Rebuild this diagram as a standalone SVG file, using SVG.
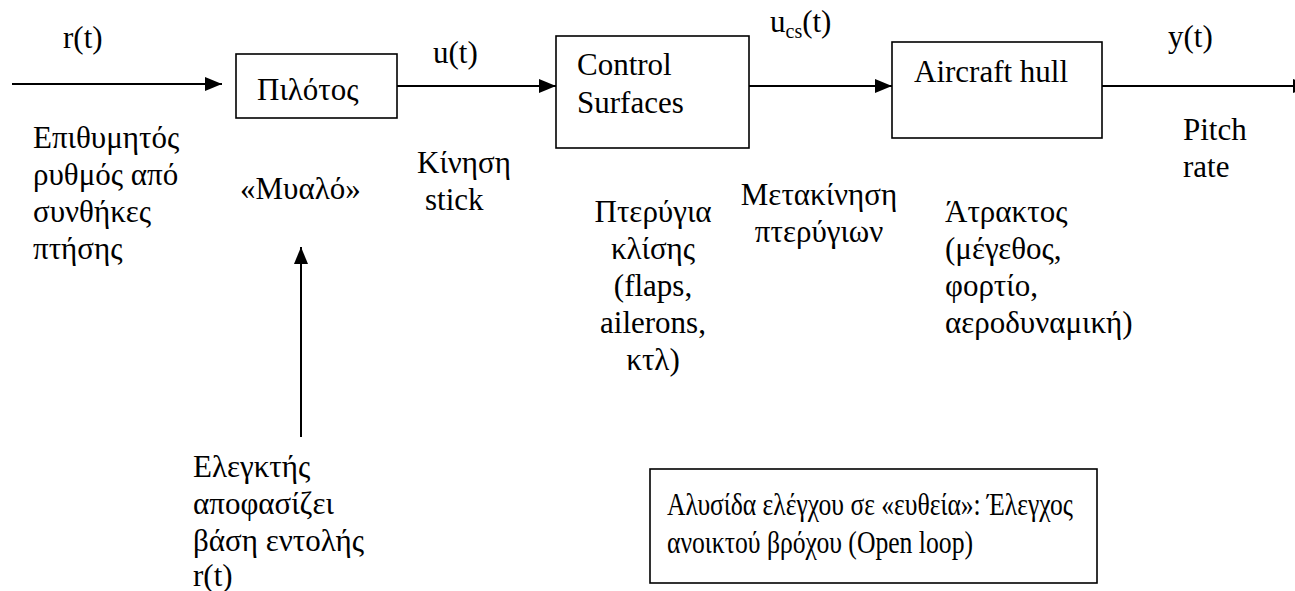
<svg xmlns="http://www.w3.org/2000/svg" width="1295" height="591" viewBox="0 0 1295 591" font-family="Liberation Serif" font-size="31">
  <defs>
    <marker id="head" markerUnits="userSpaceOnUse" markerWidth="18" markerHeight="16" refX="17" refY="7" orient="auto">
      <path d="M0,0 L17,7 L0,14 Z" fill="#000"/>
    </marker>
  </defs>
  <rect width="1295" height="591" fill="#fff"/>

  <!-- signal connectors -->
  <g id="connectors" stroke="#000" stroke-width="2" fill="none" marker-end="url(#head)">
    <line x1="12" y1="84" x2="222" y2="84"/>
    <line x1="397" y1="86" x2="556" y2="86"/>
    <line x1="749" y1="86" x2="892" y2="86"/>
    <line x1="1102" y1="86" x2="1310" y2="86"/>
    <line x1="301" y1="437" x2="301" y2="247"/>
  </g>

  <g id="pilot">
    <rect x="236" y="54" width="161" height="64" fill="#fff" stroke="#000" stroke-width="1.6"/>
    <text x="257" y="100">Πιλότος</text>
  </g>

  <g id="control-surfaces">
    <rect x="556" y="36" width="193" height="112" fill="#fff" stroke="#000" stroke-width="1.6"/>
    <text x="577" y="75">Control</text>
    <text x="577" y="113">Surfaces</text>
  </g>

  <g id="aircraft-hull">
    <rect x="892" y="42" width="210" height="96" fill="#fff" stroke="#000" stroke-width="1.6"/>
    <text x="914" y="82">Aircraft hull</text>
  </g>

  <g id="note">
    <rect x="650" y="469" width="447" height="114" fill="#fff" stroke="#000" stroke-width="1.6"/>
    <text x="667" y="515" textLength="406" lengthAdjust="spacingAndGlyphs">Αλυσίδα ελέγχου σε «ευθεία»: Έλεγχος</text>
    <text x="667" y="553" textLength="306" lengthAdjust="spacingAndGlyphs">ανοικτού βρόχου (Open loop)</text>
  </g>

  <!-- signal labels and descriptions -->
  <g id="labels">
    <text x="63" y="48">r(t)</text>
    <text x="33" y="148">Επιθυμητός</text>
    <text x="33" y="185">ρυθμός από</text>
    <text x="33" y="222">συνθήκες</text>
    <text x="33" y="259">πτήσης</text>

    <text x="240" y="199">«Μυαλό»</text>

    <text x="433" y="63">u(t)</text>
    <text x="417" y="173">Κίνηση</text>
    <text x="425" y="210">stick</text>

    <g text-anchor="middle">
      <text x="653" y="222">Πτερύγια</text>
      <text x="653" y="259">κλίσης</text>
      <text x="653" y="296">(flaps,</text>
      <text x="653" y="333">ailerons,</text>
      <text x="653" y="370">κτλ)</text>
      <text x="819" y="205">Μετακίνηση</text>
      <text x="819" y="242">πτερύγιων</text>
    </g>

    <text x="770" y="32">u<tspan font-size="20" dy="6">cs</tspan><tspan dy="-6">(t)</tspan></text>

    <text x="1168" y="47">y(t)</text>
    <text x="1183" y="140">Pitch</text>
    <text x="1183" y="177">rate</text>

    <text x="945" y="222">Άτρακτος</text>
    <text x="945" y="259">(μέγεθος,</text>
    <text x="945" y="296">φορτίο,</text>
    <text x="945" y="333">αεροδυναμική)</text>

    <text x="193" y="477">Ελεγκτής</text>
    <text x="193" y="514">αποφασίζει</text>
    <text x="193" y="551">βάση εντολής</text>
    <text x="193" y="586">r(t)</text>
  </g>
</svg>
